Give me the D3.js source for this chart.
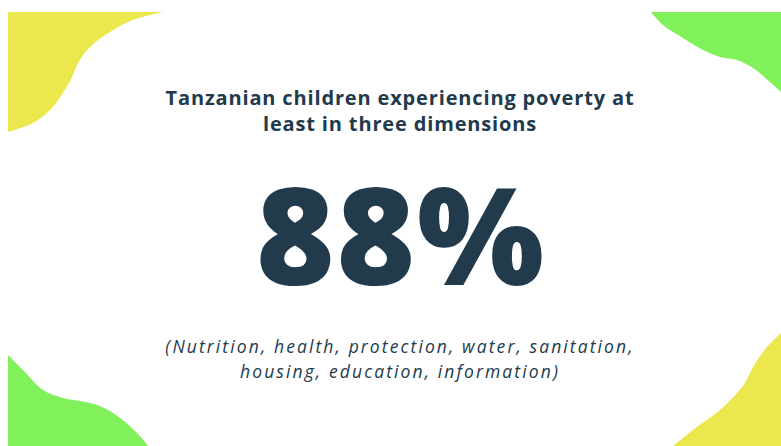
<!DOCTYPE html>
<html>
<head>
<meta charset="utf-8">
<script src="https://cdn.jsdelivr.net/npm/d3@7"></script>
<style>
  body { margin: 0; background: #fff; }
</style>
</head>
<body>
<div id="card"></div>
<script>
// data
var titleLines = ["Tanzanian children experiencing poverty at", "least in three dimensions"];
var share = 88;
var dimensions = ["Nutrition", "health", "protection", "water", "sanitation", "housing", "education", "information"];
var dimensionLines = [dimensions.slice(0, 5), dimensions.slice(5)];

// corner blobs (decoration): free edge points + the corners closing the shape
var blobs = [
  { color: "#ebe84e",
    edge: [[163, 12], [133, 20], [110, 32], [90, 47], [78, 63], [72, 77], [63, 93], [50, 110], [33, 123], [8, 132]],
    close: [[8, 12]] },
  { color: "#80f15a",
    edge: [[651, 12], [663, 25], [683, 38], [703, 50], [720, 57], [737, 60], [753, 68], [770, 82], [781, 92]],
    close: [[781, 12]] },
  { color: "#80f15a",
    edge: [[8, 355], [23, 370], [43, 390], [63, 398], [80, 401], [100, 406], [120, 418], [137, 433], [148, 446]],
    close: [[8, 446]] },
  { color: "#ebe84e",
    edge: [[781, 333], [767, 347], [753, 367], [745, 383], [737, 393], [720, 410], [697, 427], [673, 446]],
    close: [[781, 446]] }
];

var width = 781, height = 446;
var ink = "#213a4c";

var svg = d3.select("#card")
    .append("svg")
    .attr("width", width)
    .attr("height", height);

svg.append("rect")
    .attr("width", width)
    .attr("height", height)
    .attr("fill", "#fff");

var curve = d3.line().curve(d3.curveCatmullRom.alpha(0.5));

svg.selectAll("path.blob")
    .data(blobs)
    .enter()
    .append("path")
    .attr("class", "blob")
    .attr("d", d => curve(d.edge) + d.close.map(p => "L" + p[0] + "," + p[1]).join("") + "Z")
    .attr("fill", d => d.color);

var cx = 400;

svg.selectAll("text.title")
    .data(titleLines)
    .enter()
    .append("text")
    .attr("class", "title")
    .attr("x", cx)
    .attr("y", (d, i) => 105 + i * 25.5)
    .attr("text-anchor", "middle")
    .style("font-family", "'Open Sans', sans-serif")
    .style("font-weight", 700)
    .style("font-size", "20px")
    .style("letter-spacing", "0.85px")
    .style("fill", ink)
    .text(d => d);

svg.append("text")
    .attr("x", cx + 1)
    .attr("y", 285)
    .attr("text-anchor", "middle")
    .style("font-family", "'Open Sans', sans-serif")
    .style("font-weight", 800)
    .style("font-size", "134px")
    .style("letter-spacing", "2px")
    .style("fill", ink)
    .text(d3.format("d")(share) + "%");

svg.selectAll("text.dims")
    .data(dimensionLines)
    .enter()
    .append("text")
    .attr("class", "dims")
    .attr("x", cx)
    .attr("y", (d, i) => 353 + i * 25)
    .attr("text-anchor", "middle")
    .style("font-family", "'Open Sans', sans-serif")
    .style("font-style", "italic")
    .style("font-size", "17.5px")
    .style("letter-spacing", "2.1px")
    .style("fill", ink)
    .text((d, i) => (i === 0 ? "(" : "") + d.join(", ") + (i === 0 ? "," : ")"));
</script>
</body>
</html>
